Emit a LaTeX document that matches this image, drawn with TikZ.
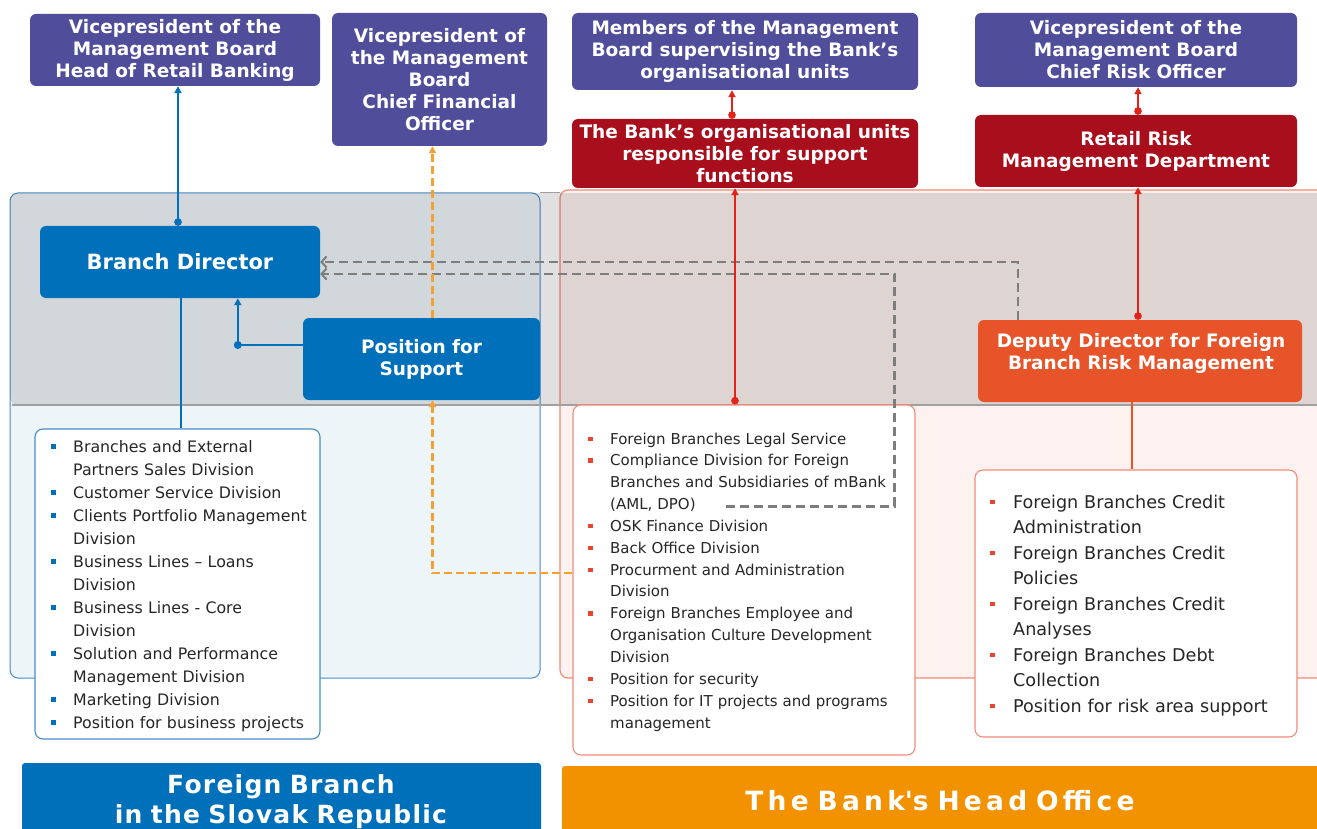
\documentclass[tikz,border=0pt]{standalone}
\usepackage{fontspec}
\setmainfont{DejaVu Sans}
\usetikzlibrary{arrows.meta,calc}

\definecolor{vpPurple}{RGB}{80,78,155}
\definecolor{unitRed}{RGB}{168,14,28}
\definecolor{brBlue}{RGB}{0,112,186}
\definecolor{ddOrange}{RGB}{232,84,42}
\definecolor{hoOrange}{RGB}{243,146,0}
\definecolor{lnRed}{RGB}{226,35,26}
\definecolor{dashOrange}{RGB}{245,160,50}
\definecolor{dashGrey}{RGB}{125,125,125}
\definecolor{panelBlueFill}{RGB}{238,245,249}
\definecolor{panelBlueDraw}{RGB}{70,140,200}
\definecolor{panelRedFill}{RGB}{253,242,239}
\definecolor{panelRedDraw}{RGB}{240,140,120}
\definecolor{bandDraw}{RGB}{160,160,160}
\definecolor{bulRed}{RGB}{232,70,44}

\newcommand{\blt}[2]{\makebox[#2][l]{\textcolor{#1}{\rule[0.2em]{4.5pt}{4.5pt}}}}
\newfontfamily\bannerfontB[LetterSpace=5]{DejaVu Sans Bold}
\newfontfamily\bannerfontO[LetterSpace=16]{DejaVu Sans Bold}

\begin{document}
\begin{tikzpicture}[x=1pt,y=-1pt,
  titlebox/.style={rectangle, rounded corners=6pt, fill=#1, text=white, align=center,
    inner sep=0pt, font=\bfseries\fontsize{18.5}{22}\selectfont},
  listbox/.style={rectangle, rounded corners=8pt, fill=white, draw=#1, line width=1.1pt, inner sep=0pt},
  listtext/.style={inner sep=0pt, align=left, text=black!85, anchor=base west},
  bannertext/.style={inner sep=0pt, text=white, align=center, anchor=base, text width=600pt},
  blueln/.style={draw=brBlue, line width=2.2pt},
  redln/.style={draw=lnRed, line width=2.2pt},
  ddln/.style={draw=ddOrange, line width=2.4pt},
  dotarrow/.style={{Circle[length=7.5pt]}-{Triangle[length=7pt,width=7pt]}},
  tiparrow/.style={-{Triangle[length=7pt,width=7pt]}},
  greydash/.style={draw=dashGrey, line width=2.2pt, dash pattern=on 9pt off 5pt,
    -{Straight Barb[length=5pt,width=11pt,line width=2pt]}},
  orgdash/.style={draw=dashOrange, line width=2.6pt, dash pattern=on 8pt off 4pt,
    -{Triangle[length=7pt,width=7pt]}},
]
\useasboundingbox (0,0) rectangle (1317,829);
\fill[white] (0,0) rectangle (1317,829);

% ---------- panels ----------
\draw[fill=panelBlueFill, draw=panelBlueDraw, line width=1pt, rounded corners=8pt]
  (10,193) rectangle (540,678);
\fill[panelRedFill] (1317,190) [rounded corners=8pt] -- (560,190) -- (560,678) [sharp corners] -- (1317,678) -- cycle;
\draw[panelRedDraw, line width=1.2pt] (1317,190) [rounded corners=8pt] -- (560,190) -- (560,678) [sharp corners] -- (1317,678);
% grey band
\fill[black, fill opacity=0.12] (1317,193) [rounded corners=8pt] -- (10,193) -- (10,405) [sharp corners] -- (1317,405) -- cycle;
\draw[bandDraw, line width=1pt] (540,193) -- (560,193);
\draw[bandDraw, line width=1.2pt] (12,405) -- (1317,405);

% ---------- top boxes ----------
\node[titlebox=vpPurple, minimum width=290pt, minimum height=72pt] (vpR) at (175,50)
  {Vicepresident of the\\Management Board\\Head of Retail Banking};
\node[titlebox=vpPurple, minimum width=215pt, minimum height=133pt] (vpF) at (439.5,79.5)
  {Vicepresident of\\the Management\\Board\\Chief Financial\\Officer};
\node[titlebox=vpPurple, minimum width=346pt, minimum height=77pt] (mem) at (745,51.5)
  {Members of the Management\\Board supervising the Bank’s\\organisational units};
\node[titlebox=vpPurple, minimum width=322pt, minimum height=74pt] (vpC) at (1136,50)
  {Vicepresident of the\\Management Board\\Chief Risk Officer};
\node[titlebox=unitRed, minimum width=346pt, minimum height=69pt] (org) at (745,153.5)
  {The Bank’s organisational units\\responsible for support\\functions};
\node[titlebox=unitRed, minimum width=322pt, minimum height=72pt] (rrm) at (1136,151)
  {Retail Risk\\Management Department};

% ---------- band boxes ----------
\node[titlebox=brBlue, minimum width=280pt, minimum height=72pt,
  font=\bfseries\fontsize{21}{24}\selectfont] (bd) at (180,262) {Branch Director};
\node[titlebox=brBlue, minimum width=237pt, minimum height=82pt] (pfs) at (421.5,359)
  {Position for\\Support};
\node[titlebox=ddOrange, minimum width=324pt, minimum height=82pt] (dd) at (1140,361) {};
\node[titlebox=ddOrange, fill=none] (ddt) at (1141,353)
  {Deputy Director for Foreign\\Branch Risk Management};

% ---------- list boxes ----------
\node[listbox=panelBlueDraw, minimum width=285pt, minimum height=310pt] (lstL) at (177.5,584) {};
\node[listbox=panelRedDraw, minimum width=342pt, minimum height=350pt] (lstM) at (744,580) {};
\node[listbox=panelRedDraw, minimum width=322pt, minimum height=267pt] (lstR) at (1136,603.5) {};

\node[listtext, text width=300pt, font=\fontsize{15.8}{23}\selectfont] (lstLt) at (51,452)
 {\blt{brBlue}{22pt}Branches and External\\
  \hspace*{22pt}Partners Sales Division\\
  \blt{brBlue}{22pt}Customer Service Division\\
  \blt{brBlue}{22pt}Clients Portfolio Management\\
  \hspace*{22pt}Division\\
  \blt{brBlue}{22pt}Business Lines – Loans\\
  \hspace*{22pt}Division\\
  \blt{brBlue}{22pt}Business Lines - Core\\
  \hspace*{22pt}Division\\
  \blt{brBlue}{22pt}Solution and Performance\\
  \hspace*{22pt}Management Division\\
  \blt{brBlue}{22pt}Marketing Division\\
  \blt{brBlue}{22pt}Position for business projects};

\node[listtext, text width=330pt, font=\fontsize{15}{21.85}\selectfont] (lstMt) at (588,444)
 {\blt{bulRed}{22pt}Foreign Branches Legal Service\\
  \blt{bulRed}{22pt}Compliance Division for Foreign\\
  \hspace*{22pt}Branches and Subsidiaries of mBank\\
  \hspace*{22pt}(AML, DPO)\\
  \blt{bulRed}{22pt}OSK Finance Division\\
  \blt{bulRed}{22pt}Back Office Division\\
  \blt{bulRed}{22pt}Procurment and Administration\\
  \hspace*{22pt}Division\\
  \blt{bulRed}{22pt}Foreign Branches Employee and\\
  \hspace*{22pt}Organisation Culture Development\\
  \hspace*{22pt}Division\\
  \blt{bulRed}{22pt}Position for security\\
  \blt{bulRed}{22pt}Position for IT projects and programs\\
  \hspace*{22pt}management};

\node[listtext, text width=310pt, font=\fontsize{17.6}{25.5}\selectfont] (lstRt) at (990,508)
 {\blt{bulRed}{23pt}Foreign Branches Credit\\
  \hspace*{23pt}Administration\\
  \blt{bulRed}{23pt}Foreign Branches Credit\\
  \hspace*{23pt}Policies\\
  \blt{bulRed}{23pt}Foreign Branches Credit\\
  \hspace*{23pt}Analyses\\
  \blt{bulRed}{23pt}Foreign Branches Debt\\
  \hspace*{23pt}Collection\\
  \blt{bulRed}{23pt}Position for risk area support};

% ---------- banners ----------
\fill[brBlue] (22,829) [rounded corners=3pt] -- (22,763) -- (541,763) [sharp corners] -- (541,829) -- cycle;
\fill[hoOrange] (562,829) [rounded corners=3pt] -- (562,766) [sharp corners] -- (1317,766) -- (1317,829) -- cycle;
\node[bannertext, font=\bannerfontB\fontsize{25}{30}\selectfont] (bnB) at (281,793)
  {Foreign Branch\\in the Slovak Republic};
\node[bannertext, font=\bannerfontO\fontsize{26.5}{30}\selectfont] (bnO) at (940,810)
  {The Bank\textquotesingle s Head Office};

% ---------- connectors ----------
% grey dashed reporting lines
\coordinate (gA) at ([xshift=40pt]dd.north west);
\draw[greydash] (gA) |- (bd.east);
\coordinate (gB1) at ([xshift=154pt,yshift=-102pt]lstM.north west);
\coordinate (gB2) at ([xshift=322pt,yshift=-102pt]lstM.north west);
\coordinate (gB3) at ([yshift=-12pt]bd.east);
\draw[greydash] (gB1) -- (gB2) |- (gB3);

% orange dashed
\coordinate (oL) at ([yshift=7pt]lstM.west);
\coordinate (pfsB) at ([xshift=11pt]pfs.south);
\draw[orgdash] (oL) -| (pfsB);
\coordinate (pfsT) at ([xshift=11pt]pfs.north);
\draw[orgdash] (pfsT) -- (pfsT |- vpF.south);

% blue
\coordinate (bdTop) at ([xshift=-2pt]bd.north);
\draw[blueln, dotarrow] (bdTop) -- (bdTop |- vpR.south);
\coordinate (bdBot) at ([xshift=1pt]bd.south);
\draw[blueln] (bdBot) -- (bdBot |- lstL.north);
\coordinate (pfsW) at ([yshift=14pt]pfs.west);
\coordinate (bdS2) at ([xshift=198pt]bd.south west);
\coordinate (pfsK) at (bdS2 |- pfsW);
\draw[blueln, tiparrow] (pfsW) -- (pfsK) -- (bdS2);
\fill[brBlue] (pfsK) circle[radius=4pt];

% red
\coordinate (mTop) at ([xshift=-9pt]lstM.north);
\draw[redln, dotarrow] (mTop) -- (mTop |- org.south);
\coordinate (oTop) at ([xshift=-13pt]org.north);
\draw[redln, dotarrow] (oTop) -- (oTop |- mem.south);
\coordinate (dTop) at ([xshift=-2pt]dd.north);
\draw[redln, dotarrow] (dTop) -- (dTop |- rrm.south);
\coordinate (rTop) at ([xshift=2pt]rrm.north);
\draw[redln, dotarrow] (rTop) -- (rTop |- vpC.south);
\coordinate (dBot) at ([xshift=-8pt]dd.south);
\draw[ddln] (dBot) -- (dBot |- lstR.north);
\end{tikzpicture}
\end{document}
